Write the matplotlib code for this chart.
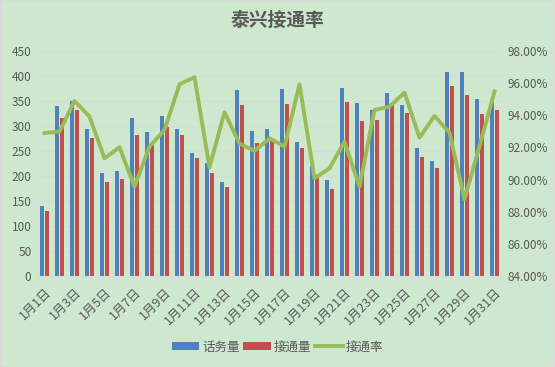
import numpy as np
import matplotlib.pyplot as plt
from matplotlib.patches import Rectangle

plt.rcParams['font.family'] = ['Noto Sans CJK SC', 'DejaVu Sans']

# Data
days = [f'1月{d}日' for d in range(1, 32)]
calls = [140, 340, 350, 294, 206, 210, 316, 288, 320, 294, 246, 226, 188, 372, 290, 294,
         374, 268, 220, 192, 376, 346, 332, 366, 342, 256, 230, 408, 408, 354, 348]
connected = [130, 316, 332, 276, 188, 194, 282, 262, 298, 282, 236, 206, 178, 342, 266, 272,
             344, 256, 198, 174, 348, 310, 312, 346, 326, 238, 216, 380, 362, 324, 332]
rate = [92.90, 92.98, 94.89, 93.92, 91.32, 92.01, 89.56, 92.05, 93.09, 95.93, 96.37, 90.76,
        94.19, 92.24, 91.78, 92.57, 92.05, 95.93, 90.08, 90.70, 92.36, 89.56, 94.33, 94.54,
        95.41, 92.61, 93.96, 92.92, 88.77, 92.09, 95.47]

bg = '#CDE8CE'
txt = '#595959'
blue = '#4F81BD'
red = '#C0504D'
green = '#9BBB59'

fig = plt.figure(figsize=(5.55, 3.67), dpi=100, facecolor=bg)
fig.patches.append(Rectangle((0, 0), 1, 1, transform=fig.transFigure, fill=False,
                             edgecolor='#D9D9D9', linewidth=1.5))
ax = fig.add_axes([37 / 555, 1 - 276 / 367, 465 / 555, 225 / 367])
ax.set_facecolor(bg)

x = np.arange(len(days))
w = 0.28
ax.bar(x - 0.15, calls, width=w, color=blue, label='话务量', zorder=2)
ax.bar(x + 0.15, connected, width=w, color=red, label='接通量', zorder=2)
ax.set_xlim(-0.5, len(days) - 0.5)
ax.set_ylim(0, 450)
ax.set_yticks(range(0, 451, 50))
ax.grid(axis='y', color='#D9D9D9', linewidth=1, zorder=0)
ax.set_axisbelow(True)

ax.set_xticks(x[::2])
ax.set_xticklabels(days[::2], rotation=45, ha='right', rotation_mode='anchor')
ax.set_xticks(np.arange(-0.5, len(days), 2), minor=True)
ax.tick_params(axis='x', which='major', length=0, pad=7, labelsize=9, labelcolor=txt)
ax.tick_params(axis='x', which='minor', length=4, color='#D9D9D9')
ax.tick_params(axis='y', length=0, labelsize=8.5, labelcolor=txt, pad=4)
for s in ['top', 'right', 'left']:
    ax.spines[s].set_visible(False)
ax.spines['bottom'].set_color('#D9D9D9')

ax2 = ax.twinx()
ax2.plot(x, rate, color=green, linewidth=2.8, label='接通率', zorder=3)
ax2.set_ylim(84, 98)
ax2.set_yticks(np.arange(84, 98.1, 2))
ax2.set_yticklabels([f'{v:.2f}%' for v in np.arange(84, 98.1, 2)])
ax2.tick_params(axis='y', length=0, labelsize=8.5, labelcolor=txt, pad=4)
for s in ax2.spines.values():
    s.set_visible(False)

fig.text(0.5, 0.945, '泰兴接通率', ha='center', va='center', fontsize=13.5,
         fontweight='bold', color=txt)

h1, l1 = ax.get_legend_handles_labels()
h2, l2 = ax2.get_legend_handles_labels()
fig.legend(h1 + h2, l1 + l2, loc='center', bbox_to_anchor=(0.5, 1 - 347 / 367), ncol=3,
           frameon=False, fontsize=9, labelcolor=txt, handlelength=2.2, handleheight=0.55,
           handletextpad=0.25, columnspacing=0.3)

fig.savefig('out.png', dpi=100, facecolor=bg)
